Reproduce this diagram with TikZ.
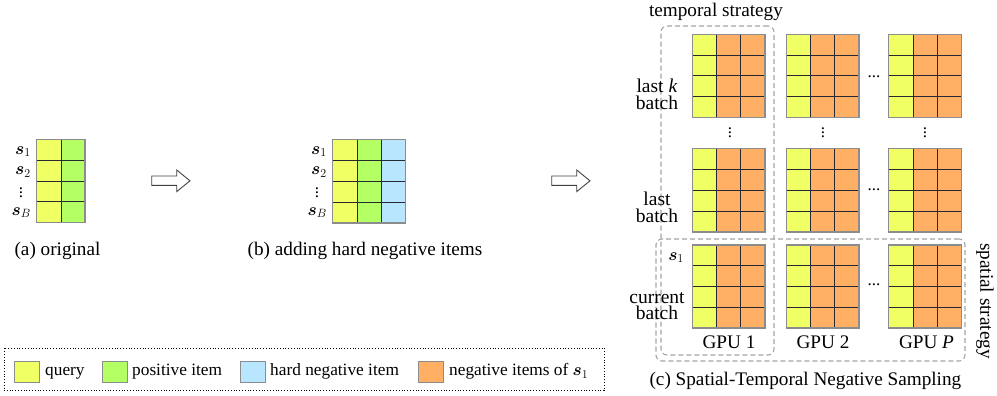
\documentclass[tikz,border=0pt]{standalone}
\usepackage{fontspec}
\setmainfont{Liberation Serif}
\newfontfamily\tnr{Liberation Serif}
\definecolor{qyel}{RGB}{240,255,100}
\definecolor{posg}{RGB}{180,255,100}
\definecolor{hneg}{RGB}{185,230,255}
\definecolor{negor}{RGB}{255,176,100}
\definecolor{innerc}{RGB}{40,40,50}
\definecolor{framec}{RGB}{140,140,140}
\definecolor{dashc}{RGB}{165,165,165}
\def\cw{24.2}
\def\ch{20.8}
\newcommand\bsym{{\usefont{OML}{cmm}{b}{it}s}}
\newcommand\vdts{\vbox{\baselineskip4.2pt\lineskiplimit0pt\hbox{.}\hbox{.}\hbox{.}}}
\newcommand\gridblock[5]{% name, x, y, ncols, colors
  \foreach \cc [count=\ii from 0] in {#5} {
    \foreach \rr in {0,1,2,3} {
      \filldraw[fill=\cc, draw=innerc, line width=0.8pt]
        ({#2+\ii*\cw},{#3+\rr*\ch}) rectangle ({#2+(\ii+1)*\cw},{#3+(\rr+1)*\ch});
    }
  }
  \node[gridframe, minimum width={#4*\cw}, minimum height={4*\ch}, anchor=north west] (#1) at (#2,#3) {};
}
\begin{document}
\begin{tikzpicture}[x=1pt,y=-1pt,
  every node/.style={font=\tnr\fontsize{19.2}{20}\selectfont, inner sep=0pt},
  gridframe/.style={draw=framec, line width=1.5pt, inner sep=0pt, outer sep=0pt},
  legfont/.style={font=\tnr\fontsize{17.3}{19}\selectfont},
  legbox/.style={draw=framec, line width=1.2pt, minimum width=25, minimum height=21, anchor=north west},
  slab/.style={anchor=base east, font=\tnr\fontsize{18}{20}\selectfont},
  sidelab/.style={align=center, font=\tnr\fontsize{19.5}{16.7}\selectfont},
  dotlab/.style={font=\tnr\fontsize{17}{17}\selectfont},
  stratbox/.style={draw=dashc, line width=1.1pt, dash pattern=on 5pt off 3pt, rounded corners=6pt},
  hollowarrow/.style={draw=black!75, fill=white, line width=0.9pt}
]
\useasboundingbox (0,0) rectangle (997,396);

% (a) original
\gridblock{ga}{36.7}{139.3}{2}{qyel,posg}
\node[slab] (a1) at (31,154) {\bsym$_1$};
\node[slab] (a2) at (31,175) {\bsym$_2$};
\node[dotlab] (a3) at (21,193) {\vdts};
\node[slab] (aB) at (31,215) {\bsym$_B$};
\node[anchor=base] (capa) at (57.5,255.5) {(a) original};

% arrow 1
\draw[hollowarrow] (151.7,176) -- (176.7,176) -- (176.7,170) -- (190,180.8) -- (176.7,191.6) -- (176.7,185.3) -- (151.7,185.3) -- cycle;

% (b) adding hard negatives
\gridblock{gb}{332.7}{139.7}{3}{qyel,posg,hneg}
\node[slab] (b1) at (327,154) {\bsym$_1$};
\node[slab] (b2) at (327,175) {\bsym$_2$};
\node[dotlab] (b3) at (317,193) {\vdts};
\node[slab] (bB) at (327,215) {\bsym$_B$};
\node[anchor=base] (capb) at (365,255.5) {(b) adding hard negative items};

% arrow 2
\draw[hollowarrow] (551.7,176) -- (576.7,176) -- (576.7,170) -- (590,180.8) -- (576.7,191.6) -- (576.7,185.3) -- (551.7,185.3) -- cycle;

% (c) grids
\gridblock{g11}{692.3}{34.3}{3}{qyel,negor,negor}
\gridblock{g12}{786.3}{34.3}{3}{qyel,negor,negor}
\gridblock{g13}{888.7}{34.3}{3}{qyel,negor,negor}
\gridblock{g21}{692.3}{148.7}{3}{qyel,negor,negor}
\gridblock{g22}{786.3}{148.7}{3}{qyel,negor,negor}
\gridblock{g23}{888.7}{148.7}{3}{qyel,negor,negor}
\gridblock{g31}{692.3}{245}{3}{qyel,negor,negor}
\gridblock{g32}{786.3}{245}{3}{qyel,negor,negor}
\gridblock{g33}{888.7}{245}{3}{qyel,negor,negor}

\node[dotlab] (v1) at (730,132.5) {\vdts};
\node[dotlab] (v2) at (823,132.5) {\vdts};
\node[dotlab] (v3) at (925,132.5) {\vdts};
\node[dotlab] (h1) at (874,76.7) {...};
\node[dotlab] (h2) at (874,190) {...};
\node[dotlab] (h3) at (874,285) {...};

% strategy boxes
\node[stratbox, minimum width=113, minimum height=329] (temporal) at (717.5,190.5) {};
\node[stratbox, minimum width=309, minimum height=122] (spatial) at (810.5,300) {};
\node[anchor=base] (templab) at (716,16.7) {temporal strategy};
\node[rotate=-90] (spatlab) at (985,301) {spatial strategy};

% side labels
\node[sidelab] (lk) at (657,94) {last \textit{k}\\batch};
\node[sidelab] (lb) at (657,207) {last\\batch};
\node[sidelab] (cb) at (657,306) {current\\batch};
\node[slab] (c1) at (684,260) {\bsym$_1$};

% GPU labels
\node[anchor=base] (gpu1) at (729,348.3) {GPU 1};
\node[anchor=base] (gpu2) at (823,348.3) {GPU 2};
\node[anchor=base] (gpuP) at (926.5,348.3) {GPU \textit{P}};
\node[anchor=base] (capc) at (805.4,385.7) {(c) Spatial-Temporal Negative Sampling};

% legend
\node[draw=black, line width=0.9pt, dash pattern=on 1pt off 1.8pt, minimum width=600, minimum height=42.7] (legend) at (304,369.3) {};
\node[legbox, fill=qyel] (lq) at (14,360.7) {};
\node[legfont, anchor=base west] (lqt) at (45,375.5) {query};
\node[legbox, fill=posg] (lp) at (101.7,360.7) {};
\node[legfont, anchor=base west] (lpt) at (132,375.5) {positive item};
\node[legbox, fill=hneg] (lh) at (240,360.7) {};
\node[legfont, anchor=base west] (lht) at (270,375.5) {hard negative item};
\node[legbox, fill=negor] (ln) at (417.7,360.7) {};
\node[legfont, anchor=base west] (lnt) at (449,375.5) {negative items of \bsym$_1$};
\end{tikzpicture}
\end{document}
